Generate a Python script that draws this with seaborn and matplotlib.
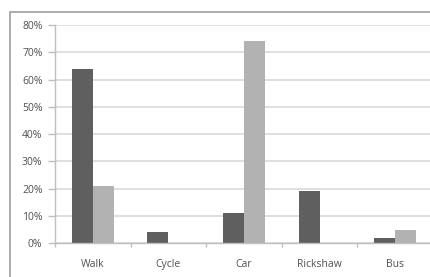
import matplotlib
matplotlib.use("Agg")
import matplotlib.pyplot as plt
import matplotlib.ticker as mticker
from matplotlib.lines import Line2D
import seaborn as sns
import pandas as pd

# values (percent)
modes = ['Walk', 'Cycle', 'Car', 'Rickshaw', 'Bus']
series_a = [64, 4, 11, 19, 2]
series_b = [21, 0, 74, 0, 5]
y_ticks = [0, 10, 20, 30, 40, 50, 60, 70, 80]

df = pd.DataFrame({
    'mode': modes * 2,
    'share': series_a + series_b,
    'series': ['A'] * len(modes) + ['B'] * len(modes),
})

sns.set_style('white')
plt.rcParams['font.family'] = ['Open Sans', 'DejaVu Sans']

fig = plt.figure(figsize=(4.31, 2.77), dpi=100)
ax = fig.add_axes([55 / 431, 1 - 243.3 / 277, 378 / 431, (243.3 - 25) / 277])

sns.barplot(data=df, x='mode', y='share', hue='series', order=modes,
            palette={'A': '#5f5f5f', 'B': '#b2b2b2'}, width=0.556,
            gap=0, edgecolor=None, linewidth=0, legend=False, ax=ax)

ax.set_xlim(-0.5, 4.5)
ax.set_ylim(0, 80)
ax.set_yticks(y_ticks)
ax.yaxis.set_major_formatter(mticker.FuncFormatter(lambda v, p: f'{v:.0f}%'))
ax.yaxis.grid(True, color='#d9d9d9', linewidth=1.2)
ax.set_axisbelow(True)
ax.set_xlabel('')
ax.set_ylabel('')

for s in ['top', 'right']:
    ax.spines[s].set_visible(False)
for s in ['left', 'bottom']:
    ax.spines[s].set_color('#bfbfbf')
    ax.spines[s].set_linewidth(1.0)

ax.tick_params(axis='y', direction='out', length=5, width=1, color='#bfbfbf',
               labelsize=7.5, labelcolor='#505050', pad=4, left=True)
ax.tick_params(axis='x', which='major', length=0, labelsize=7.5,
               labelcolor='#505050', pad=11)
ax.set_xticks([-0.5, 0.5, 1.5, 2.5, 3.5, 4.5], minor=True)
ax.tick_params(axis='x', which='minor', direction='out', length=3, width=1,
               color='#bfbfbf', bottom=True)

# outer chart frame (top and left edges visible in the crop)
fig.add_artist(Line2D([10.5 / 431, 1], [1 - 11.5 / 277] * 2,
                      transform=fig.transFigure, color='#a6a6a6', linewidth=1.3))
fig.add_artist(Line2D([10.5 / 431] * 2, [0, 1 - 11.5 / 277],
                      transform=fig.transFigure, color='#a6a6a6', linewidth=1.3))

fig.savefig('out.png', dpi=100, facecolor='white')
